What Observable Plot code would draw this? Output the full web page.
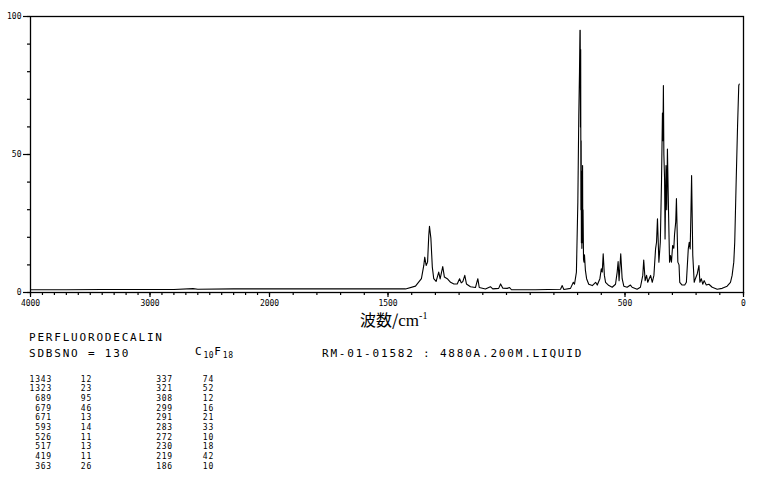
<!DOCTYPE html>
<html><head><meta charset="utf-8">
<script src="https://cdn.jsdelivr.net/npm/d3@7"></script>
<script src="https://cdn.jsdelivr.net/npm/@observablehq/plot@0.6"></script>
<style>
body{margin:0;background:#fff;}
#wrap{position:relative;width:766px;height:479px;overflow:hidden;background:#fff;}
#wrap svg{position:absolute;left:0;top:0;}
.t{position:absolute;white-space:pre;font-family:"DejaVu Sans Mono",monospace;color:#000;transform:translateY(-50%);line-height:1;}
.big{font-size:11px;letter-spacing:1.8px;}
.small{font-size:8px;letter-spacing:0.8px;}
.r{text-align:right;}
</style></head><body><div id="wrap"></div>
<script>
// ---- data ----
const compound = "PERFLUORODECALIN";
const sdbsLine = "SDBSNO = 130";
const formulaParts = [["C", "10"], ["F", "18"]];
const measurement = "RM-01-01582 : 4880A.200M.LIQUID";
const axisTitle = ["波数/", "cm", "-1"];

const peakWaveA = [1343, 1323, 689, 679, 671, 593, 526, 517, 419, 363];
const peakIntA  = [12, 23, 95, 46, 13, 14, 11, 13, 11, 26];
const peakWaveB = [337, 321, 308, 299, 291, 283, 272, 230, 219, 186];
const peakIntB  = [74, 52, 12, 16, 21, 33, 10, 18, 42, 10];

const majorX = [4000, 3000, 2000, 1500, 500, 0];
const majorY = [0, 50, 100];

// spectrum [wavenumber cm-1, intensity]
const spectrum = [
[4000,1.0],[3700,1.0],[3400,1.1],[3100,1.1],[2800,1.1],[2640,1.4],[2600,1.2],[2300,1.3],[2000,1.3],[1800,1.3],[1600,1.3],[1500,1.3],[1426,1.3],
[1384,2.3],[1359,5],[1349,9.8],[1345,12.8],[1339,9.8],[1333,11],[1328,20.6],[1325,24],[1319,19.6],[1313,9.2],[1307,5],[1297,4],[1286,7.4],[1280,4.9],[1274,7.4],[1269,9.4],[1262,5.6],[1250,5],[1236,3.7],[1222,3.1],[1208,3.1],[1198,5],[1191,3.5],[1184,4],[1176,6.2],[1169,3.1],[1152,2.1],[1131,1.8],[1121,5],[1115,1.8],[1089,1.3],[1068,2.1],[1058,1.3],[1033,1.5],[1025,3.1],[1016,1.6],[997,1.5],[987,1.8],[979,1.0],[878,1.0],
[772,1.2],[765,2.5],[758,1.1],[730,1.5],[718,3.7],[713,3],[705,7.4],[699,32.7],[695,64],[692,80],[690,95],[689,95],[688,60],[687,88],[686,30],[685,55],[684,18],[683,35],[682,16],[681,44],[680,20],[679,46],[678,18],[677,30],[675,12],[673,11],[671,13.7],[667,8],[662,5],[653,3],[638,2.5],[624,3.7],[617,2.7],[606,5],[600,8.6],[596,7.4],[592,14],[587,6.2],[582,3.7],[568,2.5],[554,1.9],[540,3],[533,7.4],[529,11.2],[525,4.3],[522,8.6],[518,14],[512,5],[505,2.3],[491,1.9],[477,2.7],[470,1.9],[449,1.2],[435,1.9],[425,6.2],[421,11.8],[415,4.3],[409,6.2],[404,3.7],[398,5],[392,6.2],[385,3.7],[378,6.2],[371,15.8],[367,18.2],[363,26.7],[357,11],[351,18.2],[346,40],[342,65],[340,55],[338,75],[336,50],[333,41],[331,19.4],[327,46],[324,30],[321,52],[316,28],[312,11],[308,13.4],[304,11],[299,17],[294,16],[291,21],[286,25.5],[283,34],[277,11],[272,10],[269,3.7],[259,2.7],[248,2.7],[241,3.7],[233,15.8],[229,18.2],[225,15.8],[222,28],[219,42.4],[214,13.4],[208,3.7],[203,5],[195,6.8],[188,9.8],[184,3.7],[178,5],[172,3],[166,4.3],[157,2.7],[146,3],[132,1.9],[111,1.2],[90,1.5],[69,2.3],[55,3.7],[48,6.2],[41,11],[37,18.2],[31,40],[25,60.5],[20,75],[18,75.5]
];

// ---- chart ----
const minorX = d3.range(0, 4001, 100);
const minorY = d3.range(0, 101, 10);

const chart = Plot.plot({
  width: 766, height: 330,
  marginLeft: 30, marginRight: 23, marginTop: 16, marginBottom: 38,
  style: {fontFamily: "DejaVu Sans Mono", fontSize: "8px", background: "white", color: "black"},
  x: {type: "linear", domain: [4000, 2000, 0], range: [30, 269, 743]},
  y: {domain: [0, 100]},
  marks: [
    Plot.frame({stroke: "black", strokeWidth: 1.3}),
    Plot.axisX(minorX, {tickSize: 3, tickFormat: () => "", label: null, strokeWidth: 1.2}),
    Plot.axisX(majorX, {tickSize: 5, tickPadding: 3, tickFormat: d => String(d), label: null, strokeWidth: 1.2}),
    Plot.axisY(minorY, {tickSize: 3, tickFormat: () => "", label: null, strokeWidth: 1.2}),
    Plot.axisY(majorY, {tickSize: 7, tickPadding: 2, tickFormat: d => String(d), label: null, strokeWidth: 1.2}),
    Plot.line(spectrum, {x: d => d[0], y: d => d[1], stroke: "black", strokeWidth: 1.1})
  ]
});
const wrap = document.getElementById("wrap");
wrap.appendChild(chart);

// ---- texts ----
function addText(html, left, y, cls, right) {
  const el = document.createElement("div");
  el.className = "t " + cls;
  el.innerHTML = html;
  if (right) { el.style.right = (766 - left) + "px"; el.classList.add("r"); }
  else el.style.left = left + "px";
  el.style.top = y + "px";
  wrap.appendChild(el);
  return el;
}
// axis title
const at = addText(
  `<span style="font-family:'Noto Sans CJK JP';font-size:16px;letter-spacing:0">${axisTitle[0]}</span>` +
  `<span style="font-family:'Liberation Serif';font-size:17px">${axisTitle[1]}</span>` +
  `<span style="font-family:'Liberation Serif';font-size:10px;vertical-align:7px">${axisTitle[2]}</span>`,
  360, 320, "");
at.style.fontFamily = "'Noto Sans CJK JP'";

addText(compound, 29, 337, "big");
addText(sdbsLine, 29, 353, "big");
addText(formulaParts.map(p => `${p[0]}<span style="font-size:8px;letter-spacing:0.6px;vertical-align:-3px">${p[1]}</span>`).join(""), 195, 353, "big");
addText(measurement, 322, 353, "big");

const y0 = 379.5, step = 9.7;
peakWaveA.forEach((w, i) => {
  addText(String(w), 52, y0 + i * step, "small", true);
  addText(String(peakIntA[i]), 92, y0 + i * step, "small", true);
  addText(String(peakWaveB[i]), 173, y0 + i * step, "small", true);
  addText(String(peakIntB[i]), 214, y0 + i * step, "small", true);
});
</script></body></html>
